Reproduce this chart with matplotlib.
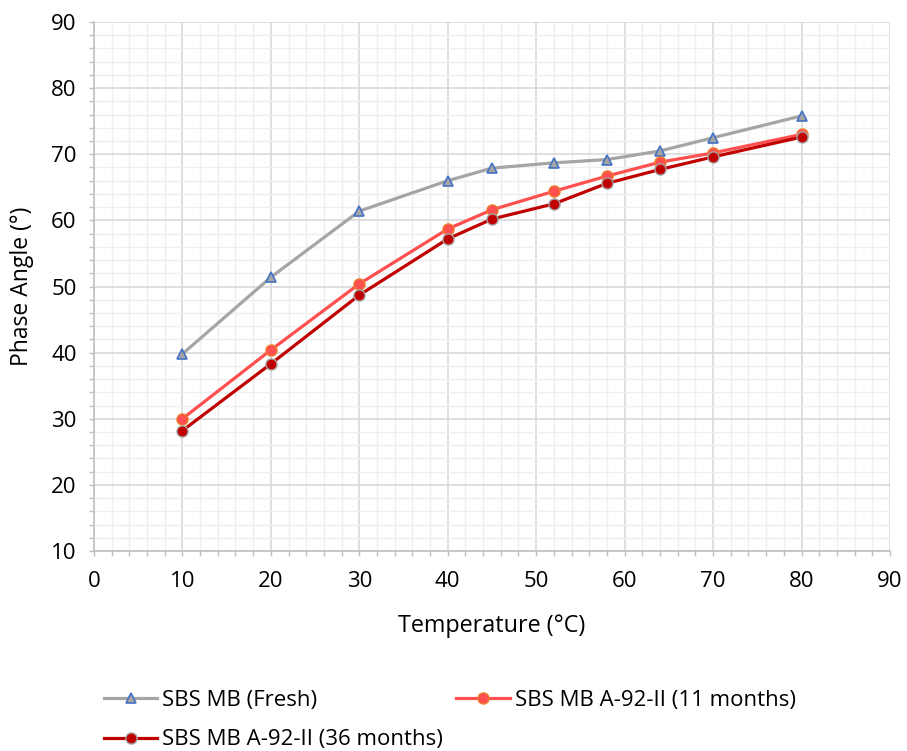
import matplotlib.pyplot as plt
import numpy as np

plt.rcParams['font.family'] = ['Open Sans', 'DejaVu Sans']

temperature = [10, 20, 30, 40, 45, 52, 58, 64, 70, 80]
fresh = [39.8, 51.4, 61.4, 66.0, 67.9, 68.7, 69.2, 70.5, 72.5, 75.8]
aged_11 = [30.0, 40.4, 50.4, 58.7, 61.6, 64.4, 66.7, 68.8, 70.2, 73.0]
aged_36 = [28.2, 38.3, 48.7, 57.2, 60.2, 62.5, 65.6, 67.7, 69.6, 72.6]

fig = plt.figure(figsize=(9.07, 7.51), dpi=100)
ax = fig.add_axes([0.1036, 0.2663, 0.8776, 0.7044])

l1, = ax.plot(temperature, fresh, color='#A5A5A5', lw=2.3, marker='^', ms=7.5,
              mfc='#A5A5A5', mec='#4472C4', mew=1.2, label='SBS MB (Fresh)', zorder=3)
l2, = ax.plot(temperature, aged_11, color='#FF4F4F', lw=2.3, marker='o', ms=8,
              mfc='#FF4F4F', mec='#ED7D31', mew=1.0, label='SBS MB A-92-II (11 months)', zorder=4)
l3, = ax.plot(temperature, aged_36, color='#C00000', lw=2.3, marker='o', ms=8,
              mfc='#C00000', mec='#A5A5A5', mew=1.0, label='SBS MB A-92-II (36 months)', zorder=5)

ax.set_xlim(0, 90)
ax.set_ylim(10, 90)
ax.set_xticks(np.arange(0, 91, 10))
ax.set_yticks(np.arange(10, 91, 10))
ax.set_xticks(np.arange(0, 91, 2), minor=True)
ax.set_yticks(np.arange(10, 91, 2), minor=True)
ax.grid(which='major', color='#D9D9D9', lw=1.2, zorder=1)
ax.grid(which='minor', color='#EFEFEF', lw=1.0, zorder=0)
ax.set_axisbelow(True)

for s in ['top', 'right']:
    ax.spines[s].set_visible(False)
for s in ['left', 'bottom']:
    ax.spines[s].set_color('#BFBFBF')
    ax.spines[s].set_linewidth(1.2)

ax.tick_params(which='both', direction='out', color='#BFBFBF', width=1.0, length=3.5,
               labelsize=16, labelcolor='#000000')
ax.tick_params(axis='x', pad=11)
ax.tick_params(axis='y', pad=9)

ax.set_xlabel('Temperature (°C)', fontsize=16.8, labelpad=16)
ax.set_ylabel('Phase Angle (°)', fontsize=16.5, labelpad=12)

# column-major fill: first column gets Fresh and 36 months
fig.legend([l1, l3, l2], [l1.get_label(), l3.get_label(), l2.get_label()],
           loc='center left', bbox_to_anchor=(0.1147, 0.041), ncol=2, frameon=False,
           fontsize=16, handlelength=2.4, handletextpad=0.22, columnspacing=0.6,
           labelspacing=0.82, borderpad=0, borderaxespad=0)

fig.savefig('out.png', dpi=100)
